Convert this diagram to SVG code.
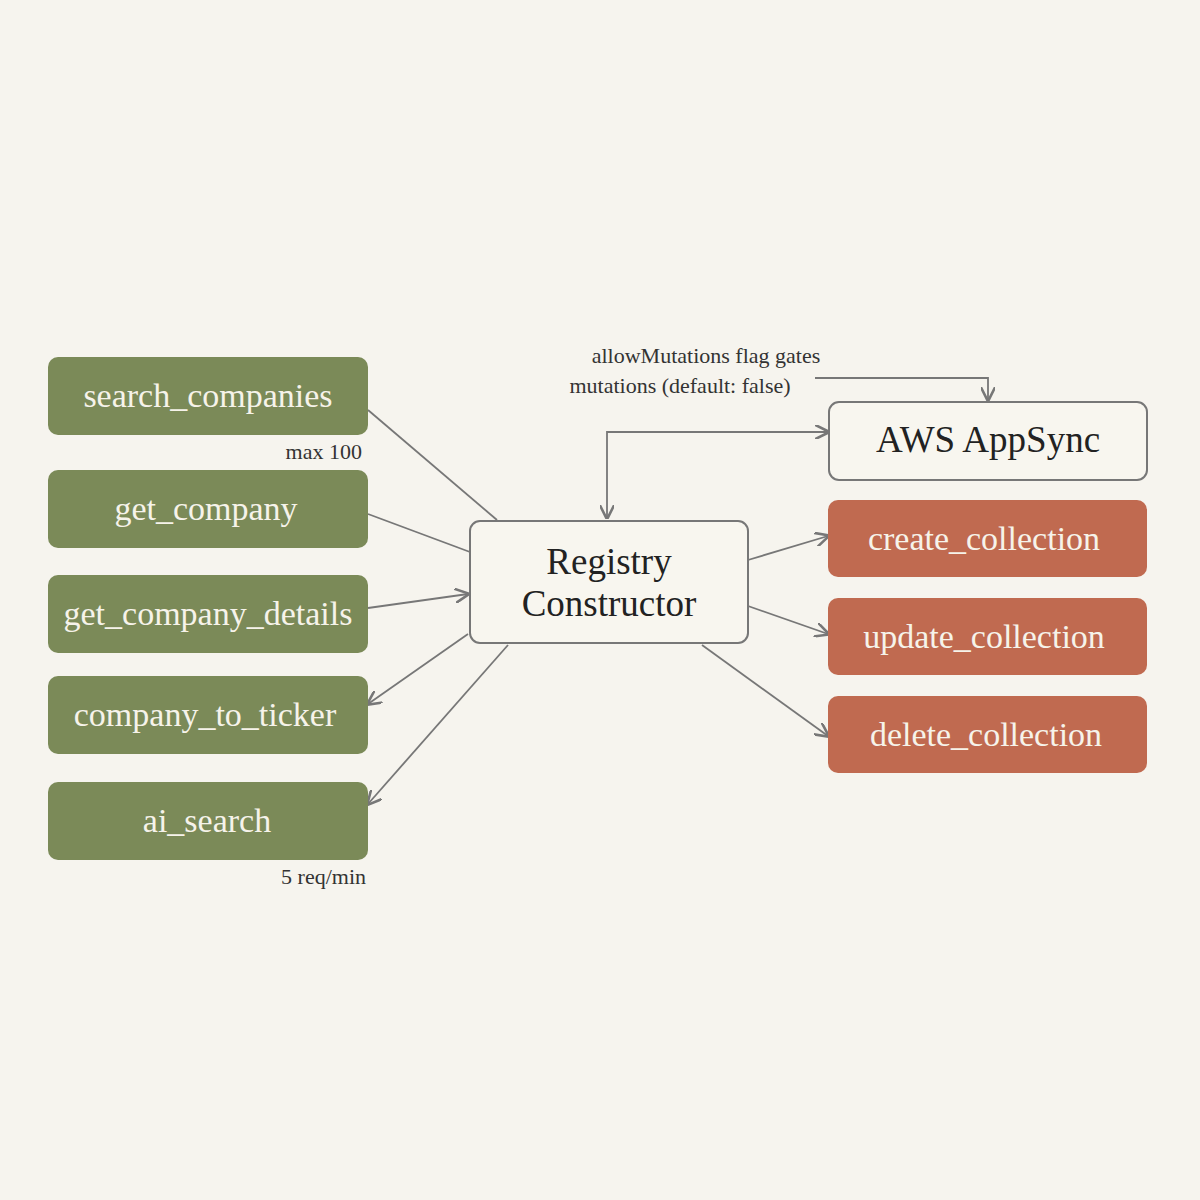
<svg xmlns="http://www.w3.org/2000/svg" width="1200" height="1200" viewBox="0 0 1200 1200">
<defs>
<style>
text{font-family:"Liberation Serif","DejaVu Serif",serif}
.g rect{fill:#7b8a58}
.r rect{fill:#c06a50}
.g text,.r text{fill:#f6f3ea;font-size:34px;text-anchor:middle}
.w rect{fill:#f8f6ef;stroke:#777;stroke-width:2}
.w text{fill:#222;font-size:37px;text-anchor:middle}
.c path{fill:none;stroke:#777;stroke-width:1.8}
.s{fill:#333;font-size:22px}
</style>
<marker id="a" viewBox="0 0 10 10" refX="9" refY="5" markerWidth="8" markerHeight="8" orient="auto-start-reverse"><path d="M0,0 L10,5 L0,10" fill="none" stroke="#777" stroke-width="1.8"/></marker>
</defs>
<rect width="1200" height="1200" fill="#f6f4ee"/>
<g class="c">
<path d="M368,410 L497,520"/>
<path d="M368,514 L470,552"/>
<path d="M368,608 L468,594" marker-end="url(#a)"/>
<path d="M468,634 L368,704" marker-end="url(#a)"/>
<path d="M508,645 L368,804" marker-end="url(#a)"/>
<path d="M748,560 L828,536" marker-end="url(#a)"/>
<path d="M748,606 L828,634" marker-end="url(#a)"/>
<path d="M702,645 L828,736" marker-end="url(#a)"/>
<path d="M607,518 L607,432 L828,432" marker-start="url(#a)" marker-end="url(#a)"/>
<path d="M815,378 L988,378 L988,400" marker-end="url(#a)"/>
</g>
<g id="search_companies" class="g"><rect x="48" y="357" width="320" height="78" rx="10"/><text x="208" y="407">search_companies</text></g>
<g id="get_company" class="g"><rect x="48" y="470" width="320" height="78" rx="10"/><text x="206" y="520">get_company</text></g>
<g id="get_company_details" class="g"><rect x="48" y="575" width="320" height="78" rx="10"/><text x="208" y="625">get_company_details</text></g>
<g id="company_to_ticker" class="g"><rect x="48" y="676" width="320" height="78" rx="10"/><text x="205" y="726">company_to_ticker</text></g>
<g id="ai_search" class="g"><rect x="48" y="782" width="320" height="78" rx="10"/><text x="207" y="832">ai_search</text></g>
<text class="s" x="362" y="459" text-anchor="end">max 100</text>
<text class="s" x="366" y="884" text-anchor="end">5 req/min</text>
<g id="registry" class="w"><rect x="470" y="521" width="278" height="122" rx="10"/><text x="609" y="574">Registry</text><text x="609" y="616">Constructor</text></g>
<g id="appsync" class="w"><rect x="829" y="402" width="318" height="78" rx="10"/><text x="988" y="452">AWS AppSync</text></g>
<g id="create_collection" class="r"><rect x="828" y="500" width="319" height="77" rx="10"/><text x="984" y="550">create_collection</text></g>
<g id="update_collection" class="r"><rect x="828" y="598" width="319" height="77" rx="10"/><text x="984" y="648">update_collection</text></g>
<g id="delete_collection" class="r"><rect x="828" y="696" width="319" height="77" rx="10"/><text x="986" y="746">delete_collection</text></g>
<text class="s" x="706" y="363" text-anchor="middle">allowMutations flag gates</text>
<text class="s" x="680" y="393" text-anchor="middle">mutations (default: false)</text>
</svg>
